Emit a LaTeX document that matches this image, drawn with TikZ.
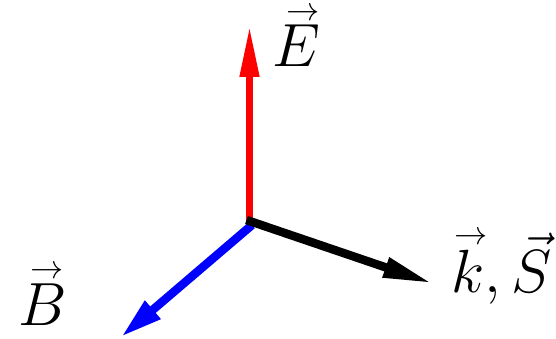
\documentclass[tikz,border=0pt]{standalone}
\usepackage{fix-cm}
\usepackage{amsmath}
\usepackage{graphicx}
\usetikzlibrary{arrows.meta}
\newcommand\myvec[2][0pt]{\overset{\hbox{\fontsize{20.74}{21}\selectfont\makebox[0pt]{\hspace{#1}\scalebox{1.6}{$\textstyle\rightarrow$}}}}{#2}}
\begin{document}
\begin{tikzpicture}[x=1pt,y=-1pt,
  vec/.style={line width=8.5pt},
  lbl/.style={anchor=base,inner sep=0pt,font=\fontsize{61}{62}\selectfont}]
\useasboundingbox (0,0) rectangle (556,339);
\coordinate (o) at (249.5,221);
\coordinate (et) at (249.5,25);
\coordinate (kt) at (433,283.5);
\coordinate (bt) at (121,337);
\draw[vec,blue,-{Triangle[length=42pt,width=22pt]}] (252,225) -- (bt);
\draw[vec,red,line width=7.5pt,-{Triangle[length=52pt,width=18pt]}] (o) -- (et);
\draw[vec,black,-{Triangle[length=50pt,width=19pt]}] (246.5,220) -- (kt);
\node[lbl] (E) at (296,67) {$\myvec[14pt]{E}$};
\node[lbl] (B) at (43,325) {$\myvec[9pt]{B}$};
\node[lbl] (kS) at (502,292) {$\myvec[6pt]{k},\vec{S}$};
\end{tikzpicture}
\end{document}
